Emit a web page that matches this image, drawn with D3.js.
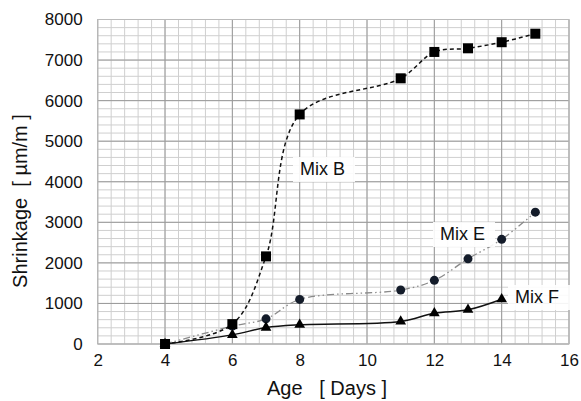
<!DOCTYPE html>
<meta charset="utf-8">
<head>
  <script src="https://cdn.jsdelivr.net/npm/d3@7"></script>
  <style>
    body { margin: 0; background: #fff; }
    text { font-family: "Liberation Sans", Arial, sans-serif; fill: #111; }
    .tick text { font-size: 17px; }
  </style>
</head>
<body>
<script>
// datos
var diasB = [4, 6, 7, 8, 11, 12, 13, 14, 15];
var mixB  = [0, 490, 2160, 5660, 6550, 7200, 7290, 7440, 7650];

var diasE = [4, 6, 7, 8, 11, 12, 13, 14, 15];
var mixE  = [0, 440, 620, 1100, 1330, 1570, 2100, 2580, 3250];

var diasF = [4, 6, 7, 8, 11, 12, 13, 14];
var mixF  = [0, 225, 405, 475, 555, 760, 845, 1105];

var xTicks = [2, 4, 6, 8, 10, 12, 14, 16];
var yTicks = [0, 1000, 2000, 3000, 4000, 5000, 6000, 7000, 8000];

var W = 581, H = 401;
var margin = {top: 19.5, right: 12, bottom: 57, left: 97.7};

var svg = d3.select("body").append("svg")
  .attr("width", W).attr("height", H);

var x = d3.scaleLinear().domain([2, 16]).range([margin.left, W - margin.right]);
var y = d3.scaleLinear().domain([0, 8000]).range([H - margin.bottom, margin.top]);

// rejilla menor
var g = svg.append("g");
g.selectAll(".vmin").data(d3.range(2, 16.01, 0.4)).enter().append("line")
  .attr("x1", d => x(d)).attr("x2", d => x(d))
  .attr("y1", y(0)).attr("y2", y(8000))
  .attr("stroke", "#cfcfcf").attr("stroke-width", 1);
g.selectAll(".hmin").data(d3.range(0, 8001, 200)).enter().append("line")
  .attr("x1", x(2)).attr("x2", x(16))
  .attr("y1", d => y(d)).attr("y2", d => y(d))
  .attr("stroke", "#cfcfcf").attr("stroke-width", 1);
// rejilla mayor
g.selectAll(".vmaj").data(xTicks).enter().append("line")
  .attr("x1", d => x(d)).attr("x2", d => x(d))
  .attr("y1", y(0)).attr("y2", y(8000))
  .attr("stroke", "#9a9a9a").attr("stroke-width", 1);
g.selectAll(".hmaj").data(yTicks).enter().append("line")
  .attr("x1", x(2)).attr("x2", x(16))
  .attr("y1", d => y(d)).attr("y2", d => y(d))
  .attr("stroke", "#9a9a9a").attr("stroke-width", 1);
g.append("rect")
  .attr("x", x(2)).attr("y", y(8000))
  .attr("width", x(16) - x(2)).attr("height", y(0) - y(8000))
  .attr("fill", "none").attr("stroke", "#bbb");

// ejes
var xAxis = d3.axisBottom(x).tickValues(xTicks).tickSize(0).tickPadding(10);
var yAxis = d3.axisLeft(y).tickValues(yTicks).tickSize(0).tickPadding(15)
  .tickFormat(d3.format("d"));
svg.append("g").attr("transform", "translate(0," + y(0) + ")").call(xAxis)
  .call(s => s.select(".domain").remove());
svg.append("g").attr("transform", "translate(" + x(2) + ",0)").call(yAxis)
  .call(s => s.select(".domain").remove());
svg.selectAll(".tick text").attr("fill", "#111");

// titulos
svg.append("text")
  .attr("x", 327).attr("y", 395)
  .attr("text-anchor", "middle").attr("font-size", 20)
  .style("white-space", "pre")
  .text("Age   [ Days ]");
svg.append("text")
  .attr("transform", "translate(27,201) rotate(-90)")
  .attr("text-anchor", "middle").attr("font-size", 20)
  .style("white-space", "pre")
  .text("Shrinkage  [ \u00b5m/m ]");

function serie(dias, vals) {
  return dias.map(function(d, i) { return [d, vals[i]]; });
}
var linea = d3.line().x(d => x(d[0])).y(d => y(d[1])).curve(d3.curveCatmullRom.alpha(0.5));

var dB = serie(diasB, mixB), dE = serie(diasE, mixE), dF = serie(diasF, mixF);

svg.append("path").datum(dE).attr("d", linea)
  .attr("fill", "none").attr("stroke", "#8a8a8a").attr("stroke-width", 1.3)
  .attr("stroke-dasharray", "7,3,1.5,3,1.5,3");
svg.append("path").datum(dF).attr("d", linea)
  .attr("fill", "none").attr("stroke", "#111").attr("stroke-width", 1.5);
svg.append("path").datum(dB).attr("d", linea)
  .attr("fill", "none").attr("stroke", "#111").attr("stroke-width", 1.5)
  .attr("stroke-dasharray", "4,3");

// marcadores
svg.selectAll(".circ").data(dE).enter().append("circle")
  .attr("cx", d => x(d[0])).attr("cy", d => y(d[1])).attr("r", 4.5)
  .attr("fill", "#141c2a");
svg.selectAll(".tri").data(dF).enter().append("path")
  .attr("transform", d => "translate(" + x(d[0]) + "," + y(d[1]) + ")")
  .attr("d", d3.symbol().type(d3.symbolTriangle).size(50))
  .attr("fill", "#000");
svg.selectAll(".sq").data(dB).enter().append("rect")
  .attr("x", d => x(d[0]) - 5).attr("y", d => y(d[1]) - 5)
  .attr("width", 10).attr("height", 10)
  .attr("fill", "#000");

// etiquetas
var etiquetas = [["Mix B", 300, 175], ["Mix E", 440, 240], ["Mix F", 515, 303]];
etiquetas.forEach(function(e) {
  svg.append("rect")
    .attr("x", e[1] - 7).attr("y", e[2] - 18)
    .attr("width", 62).attr("height", 25)
    .attr("fill", "#fff").attr("opacity", 0.9);
  svg.append("text").attr("x", e[1]).attr("y", e[2])
    .attr("font-size", 18).text(e[0]);
});
</script>
</body>
